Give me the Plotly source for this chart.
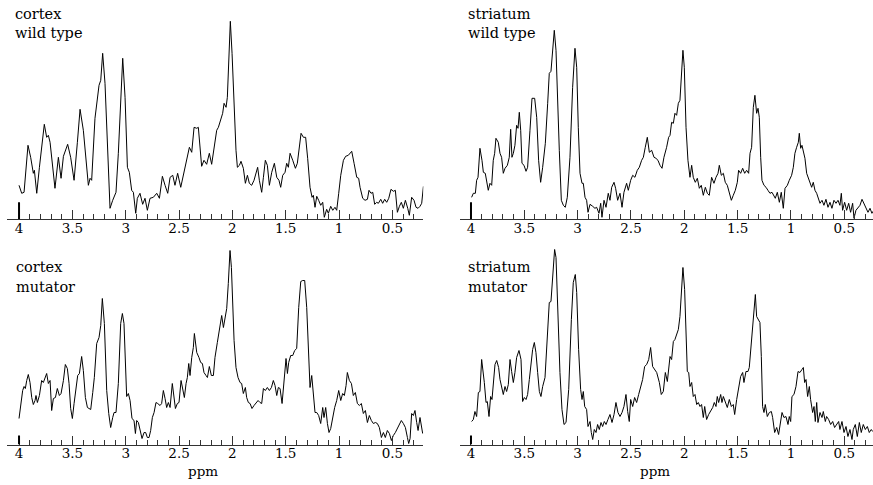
import plotly.graph_objects as go

# ---------------- data (ppm, intensity in arbitrary units) ----------------
cortex_wt_ppm = [4.000,3.975,3.953,3.916,3.891,3.866,3.856,3.834,3.809,3.788,3.763,3.741,3.725,3.709,3.684,3.663,3.631,3.606,3.584,3.544,3.516,3.484,3.453,3.428,3.397,3.372,3.350,3.334,3.319,3.288,3.266,3.250,3.234,3.216,3.194,3.172,3.147,3.122,3.091,3.069,3.047,3.028,3.006,2.984,2.966,2.944,2.928,2.906,2.891,2.866,2.841,2.819,2.797,2.772,2.741,2.709,2.684,2.656,2.631,2.606,2.584,2.559,2.538,2.513,2.484,2.453,2.428,2.403,2.381,2.359,2.334,2.319,2.288,2.266,2.241,2.216,2.194,
 2.172,2.147,2.131,2.116,2.091,2.078,2.059,2.047,2.034,2.019,2.003,1.984,1.966,1.953,1.934,1.919,1.897,1.878,1.859,1.841,1.819,1.797,1.778,1.763,1.747,1.725,1.709,1.691,1.672,1.653,1.631,1.606,1.584,1.563,1.547,1.528,1.506,1.491,1.475,1.459,1.434,1.409,1.391,1.372,1.356,1.334,1.313,1.294,1.272,1.253,1.241,1.225,1.209,1.191,1.172,1.153,1.138,1.116,1.100,1.078,1.059,1.038,1.022,1.003,0.984,0.959,0.938,0.913,0.881,0.859,0.834,0.816,0.803,0.778,0.756,0.734,0.719,0.700,0.684,0.666,0.647,0.631,0.609,0.591,0.572,0.553,0.534,0.513,0.491,0.472,0.453,0.434,0.416,0.397,0.378,0.356,0.341,0.319,0.297,0.278,0.259,0.241,0.225,0.209]
cortex_wt_int = [34,26,27,74,62,46,49,26,52,72,95,82,84,77,52,31,62,41,63,75,62,39,77,110,89,62,34,41,39,101,119,134,139,166,136,69,11,19,27,66,126,161,122,52,47,29,27,6,21,26,15,21,9,21,22,26,21,43,34,26,42,44,34,46,32,47,59,72,67,92,91,92,53,59,55,66,55,
 71,89,92,97,106,116,112,122,152,198,166,109,69,52,54,58,51,36,44,36,34,39,46,52,39,27,42,59,54,34,47,56,42,39,32,44,47,56,52,66,59,51,56,72,86,82,82,61,32,22,24,12,23,19,14,17,2,10,6,13,9,12,9,26,44,59,63,64,68,56,42,41,32,21,19,20,29,26,27,15,17,16,20,16,20,17,21,30,28,29,7,13,17,11,19,11,4,22,19,12,11,13,16,33]

striatum_wt_ppm = [3.994,3.978,3.959,3.947,3.934,3.916,3.897,3.884,3.866,3.853,3.838,3.822,3.806,3.791,3.778,3.766,3.744,3.728,3.713,3.697,3.681,3.659,3.641,3.628,3.616,3.603,3.588,3.572,3.559,3.547,3.534,3.522,3.503,3.484,3.469,3.447,3.428,3.403,3.384,3.366,3.347,3.328,3.303,3.281,3.266,3.250,3.234,3.219,3.203,3.191,3.172,3.153,3.134,3.116,3.097,3.072,3.047,3.025,3.009,2.994,2.978,2.959,2.947,2.931,2.916,2.903,2.884,2.859,2.838,2.822,2.800,2.784,2.772,2.753,2.734,2.713,2.697,2.681,2.659,2.644,2.625,2.603,2.584,2.566,2.541,2.525,2.503,2.484,2.463,2.441,2.422,2.400,2.384,2.366,2.347,2.328,2.306,2.284,2.266,2.247,2.228,2.209,2.191,2.166,2.147,2.134,
 2.119,2.103,2.088,2.072,2.056,2.041,2.028,2.013,2.000,1.984,1.966,1.947,1.931,1.916,1.897,1.878,1.859,1.841,1.822,1.803,1.784,1.766,1.744,1.722,1.703,1.684,1.672,1.653,1.634,1.616,1.597,1.578,1.559,1.541,1.522,1.503,1.491,1.472,1.453,1.434,1.416,1.397,1.384,1.369,1.353,1.338,1.322,1.309,1.297,1.284,1.272,1.253,1.234,1.216,1.197,1.178,1.166,1.147,1.128,1.109,1.091,1.072,1.056,1.034,1.016,0.994,0.978,0.963,0.947,0.931,0.922,0.909,0.897,0.884,0.869,0.853,0.838,0.822,0.806,0.791,0.775,0.759,0.744,0.728,0.709,0.691,0.672,0.653,0.634,0.616,0.597,0.578,0.559,0.541,0.528,0.516,0.497,0.478,0.459,0.441,0.422,0.409,0.391,0.372,0.353,0.334,0.316,0.297,0.278,0.259,0.241,0.231]
striatum_wt_int = [22,26,26,39,42,71,59,47,46,37,29,36,34,59,66,81,77,66,62,46,51,54,62,90,62,66,74,94,91,107,89,56,54,48,52,89,121,121,102,59,37,52,76,116,146,148,171,189,169,119,69,19,14,12,22,62,132,171,152,92,46,36,36,22,19,7,15,13,11,12,6,16,2,19,12,26,19,32,37,31,19,26,12,27,36,29,39,44,42,49,52,59,62,72,82,67,69,62,61,59,54,51,62,72,82,84,
 97,96,106,104,116,119,149,169,152,92,59,42,54,42,37,41,31,34,24,32,26,24,42,36,42,46,54,44,46,37,34,26,19,24,29,37,49,46,51,46,49,46,66,72,112,124,106,111,102,62,39,34,32,29,26,27,24,21,27,17,27,11,31,34,39,44,52,66,72,77,86,71,74,66,61,46,42,37,32,37,29,26,21,16,19,14,20,12,17,11,19,16,19,14,26,9,17,9,16,7,16,1,9,11,14,20,16,11,7,11,6,8]

cortex_mut_ppm = [4.000,3.984,3.966,3.953,3.941,3.928,3.913,3.897,3.881,3.866,3.850,3.841,3.828,3.809,3.788,3.772,3.756,3.741,3.725,3.709,3.694,3.678,3.659,3.641,3.622,3.606,3.584,3.566,3.547,3.531,3.516,3.500,3.484,3.466,3.450,3.434,3.413,3.397,3.378,3.359,3.341,3.328,3.309,3.294,3.272,3.250,3.234,3.219,3.200,3.178,3.159,3.141,3.122,3.109,3.091,3.069,3.047,3.031,3.016,3.003,2.991,2.975,2.959,2.941,2.922,2.909,2.897,2.881,2.866,2.847,2.828,2.813,2.797,2.781,2.766,2.750,2.734,2.716,2.700,2.678,2.663,2.647,2.631,2.616,2.600,2.584,2.563,2.547,2.534,2.516,2.500,2.481,2.466,2.450,2.434,2.422,2.409,2.397,2.381,2.366,2.356,2.334,2.313,2.297,2.281,2.266,2.247,2.234,2.216,2.197,2.178,2.163,2.141,
 2.116,2.100,2.084,2.069,2.053,2.038,2.022,2.009,1.997,1.984,1.966,1.947,1.928,1.913,1.897,1.878,1.866,1.850,1.834,1.816,1.797,1.778,1.759,1.741,1.725,1.709,1.691,1.672,1.653,1.634,1.616,1.600,1.584,1.569,1.553,1.534,1.516,1.497,1.484,1.472,1.453,1.434,1.416,1.397,1.378,1.359,1.341,1.322,1.303,1.288,1.272,1.256,1.241,1.225,1.209,1.191,1.172,1.153,1.141,1.125,1.109,1.094,1.078,1.059,1.041,1.022,1.003,0.984,0.966,0.950,0.934,0.922,0.903,0.884,0.866,0.847,0.828,0.809,0.791,0.772,0.753,0.734,0.716,0.697,0.678,0.659,0.641,0.622,0.603,0.584,0.566,0.547,0.528,0.509,0.491,0.472,0.453,0.434,0.416,0.397,0.378,0.359,0.347,0.334,0.319,0.303,0.288,0.272,0.259,0.241,0.225,0.216]
cortex_mut_int = [26,37,54,58,56,64,70,62,47,40,44,49,42,49,64,62,67,71,61,64,34,46,47,56,49,51,64,80,76,61,36,26,41,57,69,71,88,74,47,37,36,35,52,67,101,107,119,146,121,54,31,17,27,32,32,61,121,131,121,77,48,51,44,26,24,11,24,22,14,6,12,12,7,7,14,27,32,42,41,39,41,54,46,37,42,37,61,46,36,41,42,64,56,47,61,67,81,69,87,97,111,92,87,82,81,72,69,67,78,69,69,87,102,
 119,129,117,127,136,161,194,177,137,104,77,67,62,61,51,57,47,42,41,36,39,41,44,42,41,56,54,57,54,57,64,59,49,57,56,41,67,86,71,82,89,89,94,96,137,163,164,164,137,94,57,69,49,32,32,29,21,37,27,37,21,12,16,27,37,44,54,44,51,49,59,72,64,61,49,52,41,39,41,31,34,22,29,24,21,22,21,17,7,12,7,14,11,4,9,12,16,19,24,21,17,7,1,6,31,29,34,22,14,27,17,11]

striatum_mut_ppm = [3.994,3.978,3.963,3.947,3.931,3.916,3.900,3.884,3.875,3.859,3.847,3.831,3.816,3.803,3.791,3.775,3.759,3.741,3.728,3.713,3.697,3.681,3.666,3.650,3.634,3.619,3.603,3.588,3.572,3.550,3.531,3.516,3.500,3.484,3.469,3.453,3.438,3.422,3.406,3.391,3.375,3.359,3.344,3.328,3.306,3.284,3.266,3.250,3.234,3.216,3.203,3.188,3.166,3.147,3.128,3.109,3.084,3.059,3.041,3.022,3.009,2.991,2.972,2.959,2.947,2.934,2.916,2.903,2.884,2.872,2.859,2.844,2.828,2.813,2.797,2.781,2.766,2.750,2.734,2.716,2.697,2.678,2.659,2.641,2.622,2.603,2.584,2.566,2.547,2.531,2.516,2.503,2.484,2.466,2.447,2.428,2.409,2.391,2.372,2.353,2.334,2.316,2.297,2.278,2.259,2.234,2.216,2.197,2.178,2.159,2.147,2.134,
 2.119,2.103,2.088,2.072,2.056,2.041,2.025,2.013,1.997,1.984,1.972,1.959,1.947,1.931,1.916,1.900,1.884,1.869,1.853,1.838,1.822,1.809,1.791,1.772,1.753,1.734,1.719,1.703,1.691,1.678,1.659,1.647,1.634,1.616,1.597,1.578,1.559,1.541,1.528,1.509,1.491,1.472,1.453,1.441,1.422,1.403,1.391,1.378,1.366,1.353,1.334,1.322,1.309,1.291,1.278,1.266,1.253,1.241,1.222,1.203,1.184,1.172,1.153,1.134,1.116,1.103,1.084,1.066,1.047,1.028,1.016,1.003,0.991,0.972,0.953,0.934,0.916,0.897,0.884,0.872,0.859,0.844,0.828,0.816,0.797,0.784,0.772,0.759,0.747,0.728,0.709,0.697,0.678,0.666,0.647,0.628,0.609,0.591,0.572,0.553,0.541,0.522,0.503,0.484,0.466,0.447,0.428,0.416,0.397,0.378,0.359,0.341,0.322,0.303,0.284,0.266,0.247,0.234]
striatum_mut_int = [23,25,33,28,52,53,85,73,62,42,43,28,48,45,58,80,84,77,65,57,50,58,53,60,85,73,62,72,87,94,85,43,47,45,50,65,78,95,102,92,72,53,48,58,67,105,142,143,172,195,187,138,72,35,20,22,55,125,162,170,152,95,55,45,53,38,35,18,23,12,5,15,12,20,15,22,18,23,20,25,30,22,30,42,32,28,32,38,50,33,23,45,38,47,42,50,58,65,78,80,85,97,78,75,72,62,50,53,72,63,78,88,
 85,103,105,110,115,128,158,177,155,105,73,72,58,62,48,50,40,42,38,40,27,38,25,30,33,37,42,38,48,42,50,42,48,43,37,45,38,40,30,45,57,68,72,62,73,73,77,92,108,125,150,128,125,122,88,38,32,40,28,32,33,27,12,17,10,20,32,27,28,20,28,23,48,50,58,73,72,75,77,62,65,48,58,45,32,38,23,42,22,32,27,33,23,28,25,20,23,17,20,23,15,23,12,18,8,15,5,15,20,8,22,12,20,15,18,12,15,13]

tick_vals = [4, 3.5, 3, 2.5, 2, 1.5, 1, 0.5]
tick_text = ["4", "3.5", "3", "2.5", "2", "1.5", "1", "0.5"]
minor_vals = [round(3.9 - 0.1 * i, 1) for i in range(37)]

panel_labels = [("cortex", "wild type"), ("striatum", "wild type"),
                ("cortex", "mutator"), ("striatum", "mutator")]
axis_title = "ppm"

# ---------------- figure ----------------
W, H = 873, 485
SERIF = "DejaVu Serif"
LINE = "#333333"

def px(xp):
    return xp / W

def py(yp):
    return 1 - yp / H

panels = [
    # (ppm, int, x-domain px, x-range, baseline px)
    (cortex_wt_ppm, cortex_wt_int, (7.3, 423.3), (4.110, 0.210), 219.3),
    (striatum_wt_ppm, striatum_wt_int, (460.0, 873.0), (4.103, 0.231), 219.3),
    (cortex_mut_ppm, cortex_mut_int, (7.3, 423.3), (4.110, 0.210), 444.5),
    (striatum_mut_ppm, striatum_mut_int, (460.0, 873.0), (4.103, 0.231), 444.5),
]
label_pos = [(13, 13.5), (466, 13.5), (14, 267), (466, 267)]
tall_tick = [17, 17, 9, 9]

fig = go.Figure()
layout = dict(
    width=W, height=H, margin=dict(l=0, r=0, t=0, b=0),
    paper_bgcolor="white", plot_bgcolor="white", showlegend=False,
    annotations=[], shapes=[],
    font=dict(family=SERIF, color="black"),
)
YSPAN = 200
for i, (xs, ys, (d0, d1), (r0, r1), base) in enumerate(panels):
    n = "" if i == 0 else str(i + 1)
    fig.add_trace(go.Scatter(x=xs, y=ys, mode="lines",
                             line=dict(color="black", width=1),
                             xaxis="x" + n, yaxis="y" + n, hoverinfo="skip"))
    layout["xaxis" + n] = dict(
        domain=[px(d0), min(1.0, px(d1))], range=[r0, r1], anchor="y" + n,
        showline=True, linecolor=LINE, linewidth=1, showgrid=False, zeroline=False,
        ticks="inside", ticklen=9, tickwidth=1, tickcolor=LINE,
        tickmode="array", tickvals=tick_vals, ticktext=tick_text,
        tickfont=dict(family=SERIF, size=13.5, color="black"),
        ticklabelstandoff=-4,
        minor=dict(tickmode="array", tickvals=minor_vals, ticks="inside",
                   ticklen=5, tickwidth=1, tickcolor=LINE, showgrid=False),
    )
    layout["yaxis" + n] = dict(
        domain=[py(base), py(base - YSPAN)], range=[0, YSPAN], anchor="x" + n,
        visible=False, showgrid=False, zeroline=False,
    )
    layout["shapes"].append(dict(type="line", xref="x" + n, yref="y" + n,
                                 x0=4, x1=4, y0=0, y1=tall_tick[i],
                                 line=dict(color="black", width=2)))
    lx, ly = label_pos[i]
    for k, txt in enumerate(panel_labels[i]):
        layout["annotations"].append(dict(
            text=txt, xref="paper", yref="paper", x=px(lx), y=py(ly + 20 * k),
            xanchor="left", yanchor="middle", showarrow=False,
            font=dict(family=SERIF, size=14.5, color="black")))

for cx in (203, 655):
    layout["annotations"].append(dict(
        text=axis_title, xref="paper", yref="paper", x=px(cx), y=py(471),
        xanchor="center", yanchor="middle", showarrow=False,
        font=dict(family=SERIF, size=13.5, color="black")))

fig.update_layout(**layout)
fig.write_html("out.html")
